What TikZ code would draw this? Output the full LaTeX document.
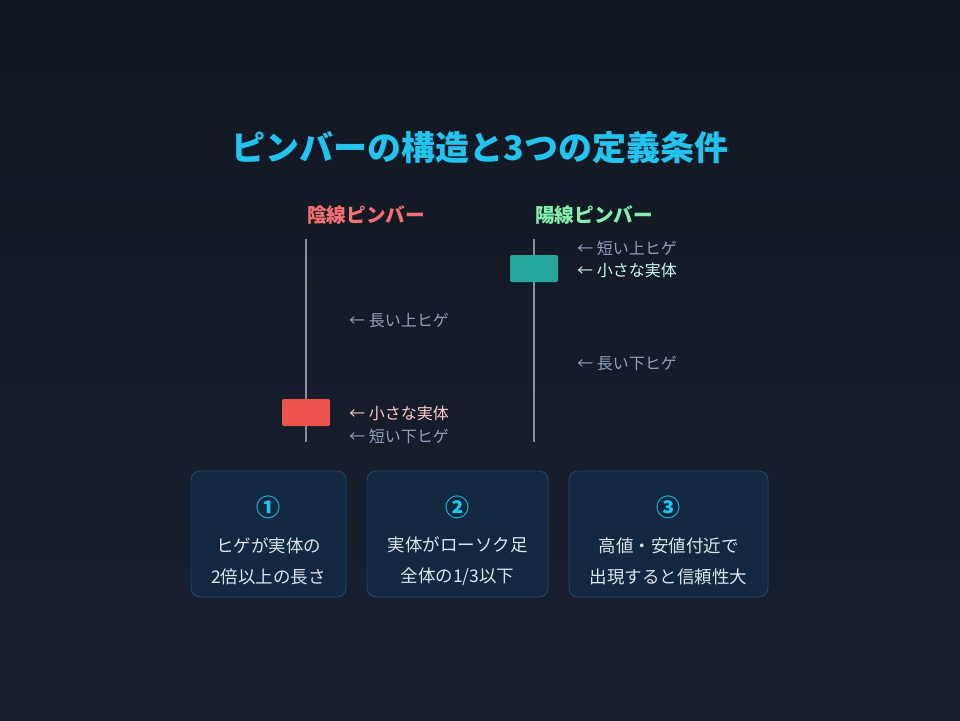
\documentclass[tikz,border=0pt]{standalone}
\usepackage{fontspec}
\setmainfont{Noto Sans CJK JP}
\definecolor{bgtop}{HTML}{111722}
\definecolor{bgbot}{HTML}{182030}
\definecolor{titlec}{HTML}{22C3EE}
\definecolor{bearc}{HTML}{F87171}
\definecolor{bullc}{HTML}{86EFAC}
\definecolor{wickc}{HTML}{8A9099}
\definecolor{bearbody}{HTML}{EF5350}
\definecolor{bullbody}{HTML}{26A69A}
\definecolor{notec}{HTML}{8FA3BF}
\definecolor{bearnote}{HTML}{FECACA}
\definecolor{bullnote}{HTML}{CCFBF1}
\definecolor{boxfill}{HTML}{122840}
\definecolor{boxline}{HTML}{1E4A6A}
\definecolor{boxtext}{HTML}{DCE4EE}
\tikzset{
  wick/.style={draw=wickc, line width=2.5pt},
  body/.style={rounded corners=2pt, inner sep=0pt, minimum width=48pt, minimum height=27pt},
  note/.style={anchor=west, inner sep=0pt, font=\fontsize{16}{19}\selectfont, text=notec},
  cond/.style={draw=boxline, line width=0.8pt, fill=boxfill, rounded corners=9pt, minimum height=126pt, inner sep=0pt},
  condnum/.style={text=titlec, font=\bfseries\fontsize{24}{28}\selectfont},
  condtext/.style={text=boxtext, align=center, font=\fontsize{17.5}{31}\selectfont},
  head/.style={font=\bfseries\fontsize{19.6}{22}\selectfont}
}
\begin{document}
\begin{tikzpicture}[x=1pt,y=-1pt]
\useasboundingbox (0,0) rectangle (960,720);
\shade[top color=bgtop, bottom color=bgbot] (0,0) rectangle (960,720);
\node[text=titlec, font=\bfseries\fontsize{34}{38}\selectfont] (title) at (480,148) {ピンバーの構造と3つの定義条件};
\node[head, text=bearc] (bearh) at (366,215) {陰線ピンバー};
\node[head, text=bullc] (bullh) at (594,215) {陽線ピンバー};
% bearish candle
\coordinate (bt) at (306,239);
\coordinate (bb) at (306,442);
\draw[wick] (bt) -- (bb);
\node[body, fill=bearbody] (bearbody) at (306,412.5) {};
% bullish candle
\coordinate (ut) at (534,239);
\coordinate (ub) at (534,442);
\draw[wick] (ut) -- (ub);
\node[body, fill=bullbody] (bullbody) at (534,268.5) {};
% notes
\node[note] (n1) at (349,321) {← 長い上ヒゲ};
\node[note, text=bearnote] (n2) at (349,413) {← 小さな実体};
\node[note] (n3) at (349,436) {← 短い下ヒゲ};
\node[note] (n4) at (577,248) {← 短い上ヒゲ};
\node[note, text=bullnote] (n5) at (577,270) {← 小さな実体};
\node[note] (n6) at (577,364) {← 長い下ヒゲ};
% condition boxes
\node[cond, minimum width=155pt] (c1) at (268.5,534) {};
\node[cond, minimum width=181pt] (c2) at (457.5,534) {};
\node[cond, minimum width=199pt] (c3) at (668.5,534) {};
\node[condnum] (k1) at (268.5,507) {①};
\node[condnum] (k2) at (457.5,507) {②};
\node[condnum] (k3) at (668.5,507) {③};
\node[condtext] (t1) at (268.5,561.5) {ヒゲが実体の\\2倍以上の長さ};
\node[condtext] (t2) at (457.5,561.5) {実体がローソク足\\全体の1/3以下};
\node[condtext] (t3) at (668.5,561.5) {高値・安値付近で\\出現すると信頼性大};
\end{tikzpicture}
\end{document}
